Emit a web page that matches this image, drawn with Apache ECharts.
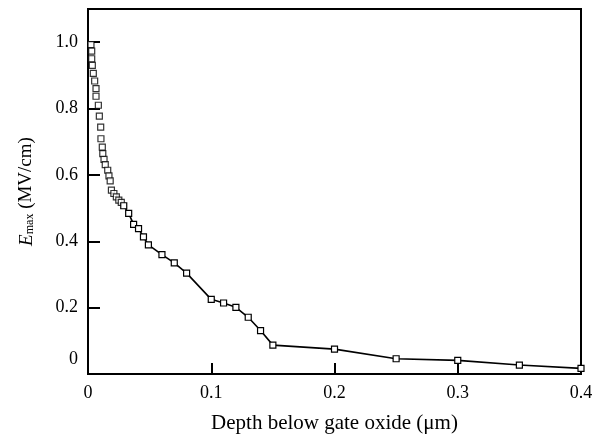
<!DOCTYPE html>
<html>
<head>
<meta charset="utf-8">
<script src="https://cdn.jsdelivr.net/npm/echarts@6/dist/echarts.min.js"></script>
<style>html,body{margin:0;padding:0;background:#fff}#c{width:606px;height:439px}</style>
</head>
<body>
<div id="c"></div>
<script>
// Points near the surface (markers only)
var denseDepth = [0.0024,0.003,0.003,0.0035,0.0043,0.0054,0.0065,0.0065,0.0084,0.0092,0.0103,0.0105,0.0116,0.012,0.013,0.014,0.016,0.017,0.018,0.019,0.021,0.023,0.025,0.027];
var denseField = [0.993,0.973,0.950,0.930,0.906,0.883,0.860,0.837,0.810,0.777,0.744,0.709,0.684,0.664,0.647,0.631,0.614,0.597,0.582,0.554,0.544,0.534,0.524,0.517];
// Points connected by the line
var lineDepth = [0.029,0.033,0.037,0.041,0.045,0.049,0.06,0.07,0.08,0.1,0.11,0.12,0.13,0.14,0.15,0.2,0.25,0.3,0.35,0.4];
var lineField = [0.507,0.484,0.451,0.438,0.413,0.389,0.360,0.335,0.304,0.225,0.214,0.201,0.171,0.131,0.087,0.075,0.046,0.041,0.027,0.017];
var xTicks = [0,0.1,0.2,0.3,0.4];
var yTicks = [0,0.2,0.4,0.6,0.8,1.0];

function zip(a,b){return a.map(function(v,i){return [v,b[i]];});}
var font = 'Liberation Serif';
var sym = {symbol:'rect', symbolSize:6, itemStyle:{color:'#fff', borderColor:'#000', borderWidth:1.2}};

var chart = echarts.init(document.getElementById('c'));
chart.setOption({
  animation:false,
  grid:{left:88, right:25, top:9, bottom:62, show:true, borderColor:'#000', borderWidth:2},
  xAxis:{
    type:'value', min:0, max:0.4, interval:0.1,
    axisLine:{lineStyle:{color:'#000', width:2}},
    axisTick:{inside:true, length:11, lineStyle:{color:'#000', width:2}},
    splitLine:{show:false},
    axisLabel:{color:'#000', fontFamily:font, fontSize:18, margin:10,
      formatter:function(v){return v===0?'0':v.toFixed(1);}},
    name:'Depth below gate oxide (\u03bcm)', nameLocation:'middle', nameGap:39,
    nameTextStyle:{color:'#000', fontFamily:font, fontSize:21}
  },
  yAxis:{
    type:'value', min:0, max:1.1, interval:0.2,
    axisLine:{lineStyle:{color:'#000', width:2}},
    axisTick:{inside:true, length:12, lineStyle:{color:'#000', width:2}},
    splitLine:{show:false},
    axisLabel:{color:'#000', fontFamily:font, fontSize:18, margin:10,
      showMaxLabel:false,
      formatter:function(v){return v===0?'{z|0}':v.toFixed(1);},
      rich:{z:{fontFamily:font, fontSize:18, color:'#000', padding:[0,0,30,0]}}},
    name:'{e|E}{s|max}{n| (MV/cm)}', nameLocation:'middle', nameGap:52, nameRotate:90,
    nameTextStyle:{color:'#000', fontFamily:font, fontSize:19,
      rich:{
        e:{fontFamily:font, fontSize:19, fontStyle:'italic', color:'#000'},
        s:{fontFamily:font, fontSize:12, color:'#000', verticalAlign:'bottom', padding:[6,0,0,0]},
        n:{fontFamily:font, fontSize:19, color:'#000'}
      }}
  },
  series:[
    Object.assign({type:'line', data:zip(lineDepth,lineField), lineStyle:{color:'#000', width:1.6}, showSymbol:true, clip:false}, sym),
    Object.assign({type:'scatter', data:zip(denseDepth,denseField), clip:false}, sym)
  ]
});
</script>
</body>
</html>
